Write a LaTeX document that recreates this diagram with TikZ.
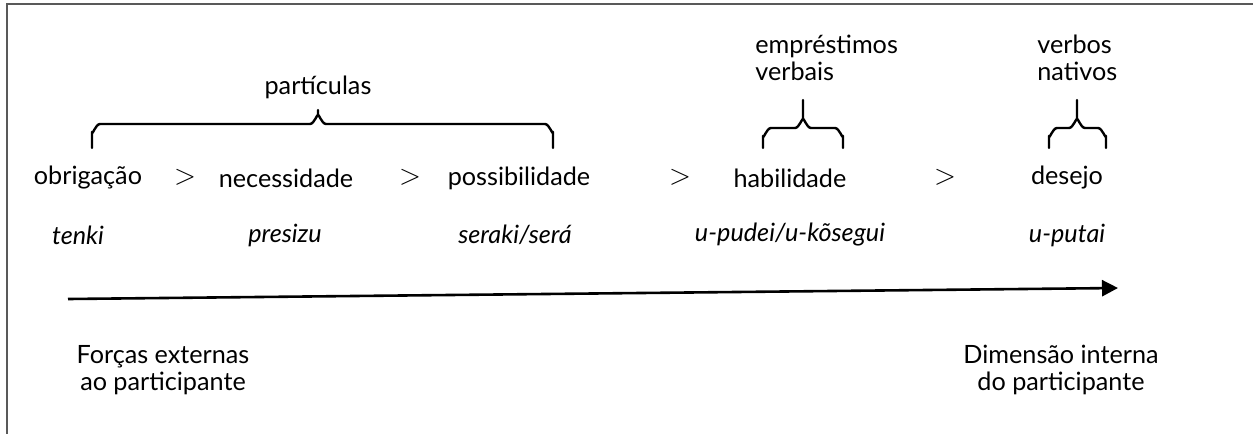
\documentclass[tikz,border=0pt]{standalone}
\usepackage{fontspec}
\setmainfont{Lato}
\usetikzlibrary{arrows.meta}
\begin{document}
\begin{tikzpicture}[x=0.5pt,y=-0.5pt,
  lbl/.style={inner sep=0pt,font=\fontsize{12.6}{13.8}\selectfont},
  ex/.style={lbl,font=\fontsize{12.6}{13.8}\selectfont\itshape},
  gt/.style={inner sep=0pt,font=\fontsize{14}{16}\selectfont},
  brace/.style={line width=1.2pt,line cap=round,line join=round},
  frame/.style={draw=black!65,line width=1pt},
  axis/.style={line width=1.3pt,-{Triangle[length=8pt,width=8pt]}}]
\useasboundingbox (0,0) rectangle (1253,434);
% open frame: top and left edges only
\draw[frame] (1253,4) -- (7,4) -- (7,434);

% group labels
\node[lbl] (part) at (318,87) {partículas};
\node[lbl,align=left,anchor=west] (empr) at (755,58) {empréstimos\\verbais};
\node[lbl,align=left,anchor=west] (nat) at (1037,58) {verbos\\nativos};

% braces
\draw[brace] (92,148) -- (92,132) to[out=-90,in=180] (100,124)
  -- (310,124) to[out=0,in=90] (318,116) -- (318,110)
  (318,116) to[out=90,in=180] (326,124) -- (545,124)
  to[out=0,in=-90] (553,132) -- (553,148);
\draw[brace] (763,148) -- (763,136) to[out=-90,in=180] (771,128)
  -- (795,128) to[out=0,in=90] (803,120) -- (803,100)
  (803,120) to[out=90,in=180] (811,128) -- (835,128)
  to[out=0,in=-90] (843,136) -- (843,148);
\draw[brace] (1049,148) -- (1049,136) to[out=-90,in=180] (1057,128)
  -- (1069,128) to[out=0,in=90] (1077,120) -- (1077,100)
  (1077,120) to[out=90,in=180] (1085,128) -- (1098,128)
  to[out=0,in=-90] (1106,136) -- (1106,148);

% modality scale
\node[lbl] (obr) at (88,178) {obrigação};
\node[gt] (g1) at (185,177) {$>$};
\node[lbl] (nec) at (286,178) {necessidade};
\node[gt] (g2) at (410,177) {$>$};
\node[lbl] (pos) at (519,178) {possibilidade};
\node[gt] (g3) at (680,177) {$>$};
\node[lbl] (hab) at (790,178) {habilidade};
\node[gt] (g4) at (945,177) {$>$};
\node[lbl] (des) at (1067,178) {desejo};

% forms
\node[ex] (f1) at (78,235) {tenki};
\node[ex] (f2) at (285,235) {presizu};
\node[ex] (f3) at (515,235) {seraki/será};
\node[ex] (f4) at (790,235) {u-pudei/u-kõsegui};
\node[ex] (f5) at (1067,235) {u-putai};

% axis
\coordinate (a0) at (68,299);
\coordinate (a1) at (1118,288);
\draw[axis] (a0) -- (a1);

% poles
\node[lbl,align=center] (ext) at (163,370) {Forças externas\\ao participante};
\node[lbl,align=center] (int) at (1061,370) {Dimensão interna\\do participante};
\end{tikzpicture}
\end{document}
